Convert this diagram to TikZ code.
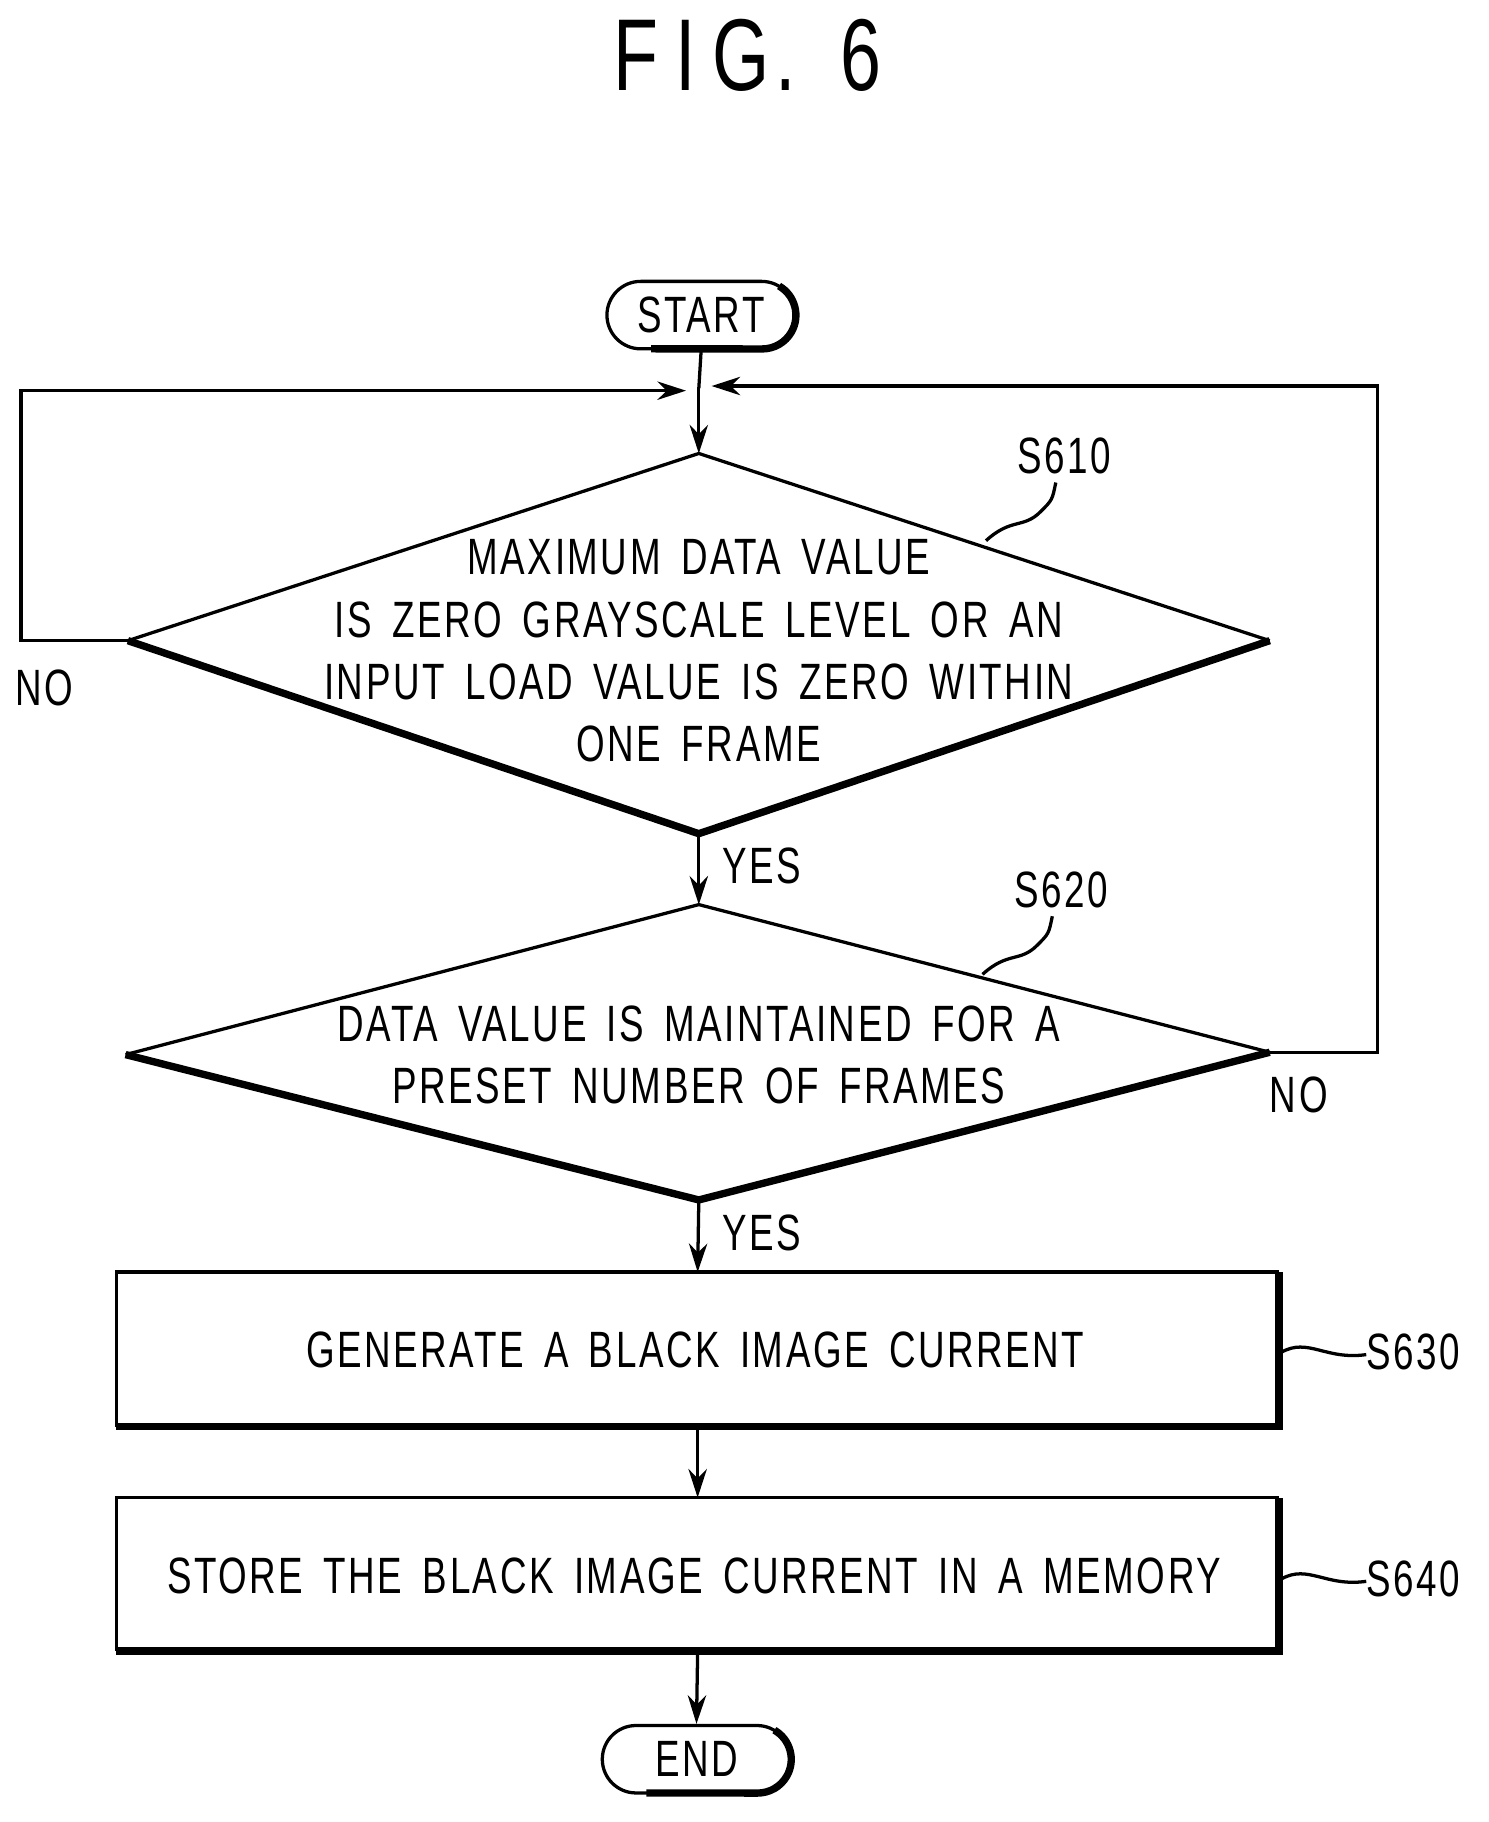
\documentclass[tikz,border=0pt]{standalone}
\usepackage{fontspec}
\setmainfont{Liberation Sans}[FakeStretch=0.72,LetterSpace=5,WordSpace=1.6]
\usetikzlibrary{arrows.meta,shapes.misc}
\begin{document}
\begin{tikzpicture}[x=0.02cm,y=-0.02cm,
  txt/.style={font=\fontsize{25}{30.5}\selectfont, align=center, inner sep=0},
  lab/.style={font=\fontsize{25}{30}\selectfont, inner sep=0},
  ln/.style={line width=1.6pt},
  thk/.style={line width=3.6pt},
  arr/.style={ln,-{Stealth[length=14pt,width=9pt]}},
  term/.style={draw, ln, rounded rectangle, minimum width=162*0.02cm, minimum height=58*0.02cm, txt}]
\useasboundingbox (0,0) rectangle (1280,1567);
\node[txt, font=\fontsize{50}{55}\selectfont] (title) at (643,48) {F\,I\,G.\;\,6};
% START
\node[term] (start) at (603,271) {START};
\draw[thk] (670,246) arc[start angle=-60,end angle=90,radius=29] -- (560,300);
\coordinate (j) at (601,334);
\draw[ln] (start.south) -- (j);
% diamond 1
\coordinate (d1t) at (601,390); \coordinate (d1l) at (110,551);
\coordinate (d1r) at (1092,551); \coordinate (d1b) at (601,717);
\draw[ln] (d1l) -- (d1t) -- (d1r);
\draw[thk] (d1l) -- (d1b) -- (d1r);
\node[txt] (t1) at (601,560) {MAXIMUM DATA VALUE\\IS ZERO GRAYSCALE LEVEL OR AN\\INPUT LOAD VALUE IS ZERO WITHIN\\ONE FRAME};
\draw[arr] (j) -- (d1t);
% diamond 2
\coordinate (d2t) at (601,778); \coordinate (d2l) at (108,907);
\coordinate (d2r) at (1092,905); \coordinate (d2b) at (601,1032);
\draw[ln] (d2l) -- (d2t) -- (d2r);
\draw[thk] (d2l) -- (d2b) -- (d2r);
\node[txt] (t2) at (601,907) {DATA VALUE IS MAINTAINED FOR A\\PRESET NUMBER OF FRAMES};
\draw[arr] (d1b) -- (d2t);
% loops
\coordinate (l1) at (18,551); \coordinate (l2) at (18,336); \coordinate (l3) at (590,336);
\draw[arr] (d1l) -- (l1) -- (l2) -- (l3);
\coordinate (r1) at (1185,905); \coordinate (r2) at (1185,332); \coordinate (r3) at (612,332);
\draw[arr] (d2r) -- (r1) -- (r2) -- (r3);
\node[lab] (no1) at (38,592) {NO};
\node[lab] (no2) at (1117,942) {NO};
\node[lab] (y1) at (655,745) {YES};
\node[lab] (y2) at (655,1060) {YES};
% step labels
\node[lab] (s610) at (915,392) {S610};
\draw[ln] (848,465) .. controls (870,445) and (880,455) .. (895,440) .. controls (905,430) .. (908,415);
\node[lab] (s620) at (913,765) {S620};
\draw[ln] (845,838) .. controls (867,818) and (877,828) .. (892,813) .. controls (902,803) .. (905,788);
% boxes
\draw[ln] (100,1227) -- (100,1094) -- (1100,1094);
\draw[thk] (100,1227) -- (1100,1227) -- (1100,1094);
\node[txt] (b1) at (598,1161) {GENERATE A BLACK IMAGE CURRENT};
\draw[ln] (100,1420) -- (100,1288) -- (1100,1288);
\draw[thk] (100,1420) -- (1100,1420) -- (1100,1288);
\node[txt] (b2) at (597,1355) {STORE THE BLACK IMAGE CURRENT IN A MEMORY};
\coordinate (b1t) at (600,1094); \coordinate (b1b) at (600,1227);
\coordinate (b2t) at (600,1288); \coordinate (b2b) at (600,1420);
\draw[arr] (d2b) -- (b1t);
\draw[arr] (b1b) -- (b2t);
\node[lab, anchor=west] (s630) at (1175,1163) {S630};
\node[lab, anchor=west] (s640) at (1175,1358) {S640};
\draw[ln] (1102,1163) .. controls (1125,1150) and (1140,1170) .. (1175,1165);
\draw[ln] (1102,1358) .. controls (1125,1345) and (1140,1365) .. (1175,1360);
% END
\node[term] (end) at (599,1513) {END};
\draw[thk] (666,1488) arc[start angle=-60,end angle=90,radius=29] -- (556,1542);
\draw[arr] (b2b) -- (end.north);
\end{tikzpicture}
\end{document}
